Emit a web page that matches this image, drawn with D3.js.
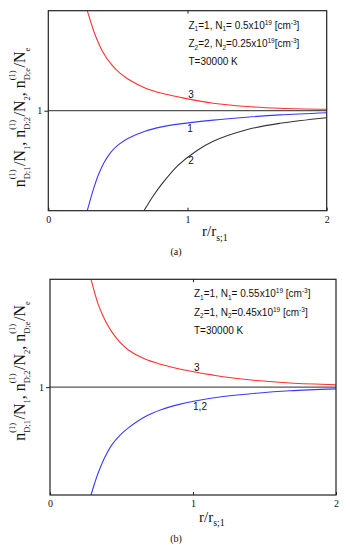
<!DOCTYPE html>
<html>
<head>
<meta charset="utf-8">
<script src="https://cdn.jsdelivr.net/npm/d3@7/dist/d3.min.js"></script>
<style>
  body { margin: 0; background: #fff; }
  svg { display: block; }
</style>
</head>
<body>
<div id="chart"></div>
<script>
// ---- data: [r/r_s;1 , n/N] ----
var xTicks = [0, 1, 2];
var yTicks = [1];

// panel (a)
var curve1a = [[0.28,0],[0.30,0.10],[0.33,0.24],[0.36,0.36],[0.40,0.48],[0.45,0.585],[0.50,0.655],
  [0.575,0.725],[0.695,0.795],[0.815,0.838],[0.946,0.868],[1.185,0.906],[1.425,0.935],[1.665,0.958],[2.0,0.98]];
var curve2a = [[0.687,0],[0.75,0.14],[0.815,0.265],[0.934,0.455],[1.066,0.60],[1.185,0.695],
  [1.425,0.81],[1.665,0.874],[2.0,0.93]];
var curve3a = [[0.28,2.0],[0.336,1.76],[0.395,1.58],[0.455,1.46],[0.515,1.375],[0.575,1.315],[0.695,1.228],
  [0.815,1.174],[0.946,1.134],[1.185,1.074],[1.425,1.042],[1.665,1.025],[2.0,1.014]];

// panel (b)
var curve12b = [[0.287,0],[0.31,0.10],[0.34,0.215],[0.38,0.34],[0.43,0.46],[0.49,0.555],[0.548,0.622],
  [0.664,0.725],[0.781,0.792],[0.897,0.838],[1.014,0.872],[1.212,0.913],[1.445,0.944],[1.678,0.966],[2.0,0.984]];
var curve3b = [[0.287,2.0],[0.338,1.765],[0.385,1.62],[0.431,1.515],[0.49,1.415],[0.548,1.345],[0.664,1.26],
  [0.781,1.21],[0.897,1.171],[1.014,1.14],[1.212,1.097],[1.445,1.061],[1.678,1.038],[2.0,1.021]];

// curve labels {text, r, v}
var labelsA = [["3", 1.025, 1.167], ["1", 1.018, 0.824], ["2", 1.025, 0.50]];
var labelsB = [["3", 1.026, 1.182], ["1,2", 1.049, 0.82]];

// annotation lines: runs of [text, "n"|"sub"|"sup"]
var noteA = [
  [["Z","n"],["1","sub"],["=1, N","n"],["1","sub"],["= 0.5x10","n"],["19","sup"],[" [cm","n"],["-3","sup"],["]","n"]],
  [["Z","n"],["2","sub"],["=2, N","n"],["2","sub"],["=0.25x10","n"],["19","sup"],["[cm","n"],["-3","sup"],["]","n"]],
  [["T=30000 K","n"]]
];
var noteB = [
  [["Z","n"],["1","sub"],["=1, N","n"],["1","sub"],["= 0.55x10","n"],["19","sup"],[" [cm","n"],["-3","sup"],["]","n"]],
  [["Z","n"],["2","sub"],["=1, N","n"],["2","sub"],["=0.45x10","n"],["19","sup"],[" [cm","n"],["-3","sup"],["]","n"]],
  [["T=30000 K","n"]]
];

var W = 350, H = 550;
var serif = "'Liberation Serif', 'Times New Roman', serif";
var sans = "'Liberation Sans', Arial, sans-serif";

var svg = d3.select("#chart").append("svg")
    .attr("width", W)
    .attr("height", H);

// lay out text runs left to right; stacked sup/sub share one slot
function richText(g, runs, mainSize, smallSize) {
  var x = 0;
  runs.forEach(function(r) {
    if (r.stack) {
      var a = g.append("text").attr("x", x).attr("y", -mainSize * 0.62)
        .style("font-size", smallSize + "px").text(r.stack[0]);
      var b = g.append("text").attr("x", x).attr("y", mainSize * 0.3)
        .style("font-size", smallSize + "px").text(r.stack[1]);
      x += Math.max(a.node().getComputedTextLength(), b.node().getComputedTextLength()) + 0.5;
    } else {
      var dy = r.sub ? mainSize * 0.3 : 0;
      var t = g.append("text").attr("x", x).attr("y", dy)
        .style("font-size", (r.sub ? smallSize : mainSize) + "px").text(r.t);
      x += t.node().getComputedTextLength();
    }
  });
  return x;
}

function yLabelRuns() {
  return [
    {t:"n"}, {stack:["(1)","D;1"]}, {t:"/N"}, {t:"1", sub:true}, {t:", n"},
    {stack:["(1)","D;2"]}, {t:"/N"}, {t:"2", sub:true}, {t:", n"},
    {stack:["(1)","D;e"]}, {t:"/N"}, {t:"e", sub:true}
  ];
}

function drawPanel(p) {
  var x = d3.scaleLinear().domain([0, 2]).range([p.left, p.right]);
  var y = d3.scaleLinear().domain([0, 2]).range([p.bottom, p.top]);
  var g = svg.append("g");

  var clipId = "clip" + p.name;
  g.append("clipPath").attr("id", clipId).append("rect")
    .attr("x", p.left).attr("y", p.top)
    .attr("width", p.right - p.left).attr("height", p.bottom - p.top);

  // reference line at 1
  g.append("line")
    .attr("x1", p.left).attr("x2", p.right)
    .attr("y1", y(1)).attr("y2", y(1))
    .attr("stroke", "#555").attr("stroke-width", 1.2);

  var line = d3.line()
    .x(function(d) { return x(d[0]); })
    .y(function(d) { return y(d[1]); })
    .curve(d3.curveCatmullRom.alpha(0.5));

  p.curves.forEach(function(c) {
    g.append("path")
      .datum(c.data)
      .attr("clip-path", "url(#" + clipId + ")")
      .attr("fill", "none")
      .attr("stroke", c.color)
      .attr("stroke-width", 1.1)
      .attr("d", line);
  });

  // frame
  g.append("rect")
    .attr("x", p.left).attr("y", p.top)
    .attr("width", p.right - p.left).attr("height", p.bottom - p.top)
    .attr("fill", "none").attr("stroke", "#222").attr("stroke-width", 1.2);

  // axes
  var xb = g.append("g")
    .attr("transform", "translate(0," + p.bottom + ")")
    .call(d3.axisBottom(x).tickValues(xTicks).tickFormat(d3.format("d"))
      .tickSizeInner(-3).tickSizeOuter(0).tickPadding(5));
  var xt = g.append("g")
    .attr("transform", "translate(0," + p.top + ")")
    .call(d3.axisTop(x).tickValues([1]).tickSizeInner(-3).tickSizeOuter(0).tickFormat(""));
  var yl = g.append("g")
    .attr("transform", "translate(" + p.left + ",0)")
    .call(d3.axisLeft(y).tickValues(yTicks).tickFormat(d3.format("d"))
      .tickSizeInner(4).tickSizeOuter(0).tickPadding(2));
  [xb, xt, yl].forEach(function(a) {
    a.select(".domain").remove();
    a.selectAll("line").attr("stroke", "#222");
    a.selectAll("text").style("font-family", serif).style("font-size", "10px").attr("fill", "#111");
  });

  // curve labels
  g.selectAll(".clab")
    .data(p.labels)
    .enter().append("text")
      .attr("x", function(d) { return x(d[1]); })
      .attr("y", function(d) { return y(d[2]); })
      .attr("text-anchor", "middle")
      .attr("dominant-baseline", "central")
      .style("font-family", sans).style("font-size", "10px")
      .attr("fill", "#111")
      .text(function(d) { return d[0]; });

  // annotation
  p.note.forEach(function(runs, i) {
    var t = g.append("text")
      .attr("x", x(1) + 1)
      .attr("y", p.top + 18 + i * 18.3)
      .style("font-family", sans).style("font-size", "10px")
      .attr("fill", "#111");
    var shift = 0;
    runs.forEach(function(r) {
      var target = r[1] == "sub" ? 2.5 : r[1] == "sup" ? -4 : 0;
      t.append("tspan")
        .attr("dy", target - shift)
        .style("font-size", r[1] == "n" ? "10px" : "6.5px")
        .text(r[0]);
      shift = target;
    });
  });

  // y label (rotated)
  var yg = g.append("g")
    .attr("transform", "translate(" + p.yLabX + "," + p.yLabY + ") rotate(-90)")
    .style("font-family", serif).attr("fill", "#111");
  var inner = yg.append("g");
  var wY = richText(inner, yLabelRuns(), 16, 8.5);
  inner.attr("transform", "translate(" + (-wY / 2) + ",0)");

  // x label
  var xg = g.append("g")
    .attr("transform", "translate(" + p.xLabX + "," + p.xLabY + ")")
    .style("font-family", serif).attr("fill", "#111");
  richText(xg, [{t:"r/r"}, {t:"s;1", sub:true}], 15, 10);

  g.append("text")
    .attr("x", 176).attr("y", p.capY)
    .attr("text-anchor", "middle")
    .style("font-family", serif).style("font-size", "10px")
    .attr("fill", "#111")
    .text(p.caption);
}

drawPanel({
  name: "a", left: 48.3, right: 326.7, top: 10.7, bottom: 210.7,
  curves: [{data: curve3a, color: "#ff3030"}, {data: curve1a, color: "#3a3aff"}, {data: curve2a, color: "#333"}],
  labels: labelsA, note: noteA,
  yLabX: 25, yLabY: 117.5, xLabX: 202, xLabY: 236, capY: 255, caption: "(a)"
});

drawPanel({
  name: "b", left: 50, right: 336, top: 279.3, bottom: 495,
  curves: [{data: curve3b, color: "#ff3030"}, {data: curve12b, color: "#3a3aff"}],
  labels: labelsB, note: noteB,
  yLabX: 25, yLabY: 371, xLabX: 199, xLabY: 521.5, capY: 542, caption: "(b)"
});
</script>
</body>
</html>
